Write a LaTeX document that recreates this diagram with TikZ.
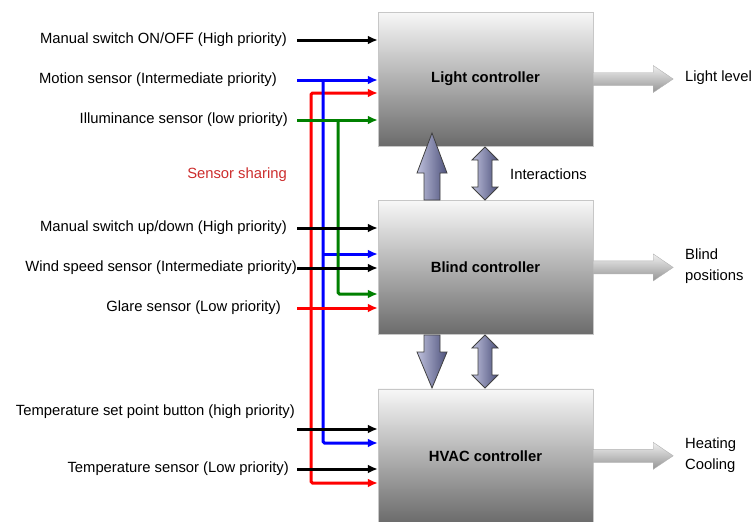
\documentclass[tikz,border=0pt]{standalone}
\usepackage{fontspec}
\setmainfont{Liberation Sans}
\usetikzlibrary{arrows.meta,positioning}
\definecolor{sharered}{RGB}{204,45,45}
\definecolor{interlight}{RGB}{190,192,220}
\definecolor{interdark}{RGB}{78,82,124}
\definecolor{darkgreen}{RGB}{0,128,0}

\begin{document}
\begin{tikzpicture}[x=1pt,y=-1pt,
    font=\fontsize{14.8}{21}\selectfont,
    ctrl/.style={draw=black!22,top color=black!3,bottom color=black!58,
      minimum width=215pt,minimum height=134pt,font=\fontsize{14.8}{17}\selectfont\bfseries},
    lbl/.style={anchor=east,inner sep=0pt},
    outlbl/.style={anchor=west,inner sep=0pt,align=left},
    tip/.tip={Latex[length=10pt,width=9pt]},
    feed/.style={line width=3pt,rounded corners=1.5pt,-tip},
    outarrow/.style={draw=black!30,top color=black!6,bottom color=black!42},
    interarrow/.style={draw=black!75,line width=0.8pt,left color=interlight,right color=interdark}]
  \useasboundingbox (0,0) rectangle (753,522);

  \node[ctrl] (light) at (485.5,79) {Light controller};
  \node[ctrl,below=54pt of light] (blind) {Blind controller};
  \node[ctrl,below=54pt of blind] (hvac) {HVAC controller};

  \node[lbl] (msw) at (287,40) {Manual switch ON/OFF (High priority)};
  \node[lbl] (mot) at (277,80) {Motion sensor (Intermediate priority)};
  \node[lbl] (ill) at (288,120) {Illuminance sensor (low priority)};
  \node[lbl,text=sharered] (share) at (287,175) {Sensor sharing};
  \node[lbl] (mud) at (287,228) {Manual switch up/down (High priority)};
  \node[lbl] (wind) at (297,268) {Wind speed sensor (Intermediate priority)};
  \node[lbl] (glare) at (281,308) {Glare sensor (Low priority)};
  \node[lbl] (tsp) at (295,412) {Temperature set point button (high priority)};
  \node[lbl] (temp) at (289,469) {Temperature sensor (Low priority)};

  \coordinate (start) at (297,0);
  \coordinate (tspin) at (297,429);
  \coordinate (rl) at (311,93);
  \coordinate (rh) at (311,483);
  \coordinate (bb) at (323,254);
  \coordinate (bh) at (323,443);
  \coordinate (gb) at (338,294);

  % shared sensors
  \draw[feed,red,tip-tip] (light.west |- rl) -- (rl) -- (rh) -- (hvac.west |- rh);
  \draw[feed,blue] (bh |- mot) |- (hvac.west |- bh);
  \draw[feed,blue] (bb) -- (blind.west |- bb);
  \draw[feed,darkgreen] (gb |- ill) |- (blind.west |- gb);

  \draw[feed] (start |- msw) -- (light.west |- msw);
  \draw[feed,blue] (start |- mot) -- (light.west |- mot);
  \draw[feed,darkgreen] (start |- ill) -- (light.west |- ill);
  \draw[feed] (start |- mud) -- (blind.west |- mud);
  \draw[feed] (start |- wind) -- (blind.west |- wind);
  \draw[feed,red] (start |- glare) -- (blind.west |- glare);
  \draw[feed] (tspin) -- (hvac.west |- tspin);
  \draw[feed] (start |- temp) -- (hvac.west |- temp);

  \foreach \b in {light,blind,hvac}
    \draw[outarrow] (\b.east) ++(0,-6.5) -- ++(60,0) -- ++(0,-7) -- ++(20,13.5)
      -- ++(-20,13.5) -- ++(0,-7) -- ++(-60,0) -- cycle;

  \draw[interarrow] (424,200) -- (424,173) -- (417,173) -- (432,133) -- (447,173)
    -- (440,173) -- (440,200) -- cycle;
  \draw[interarrow] (424,335) -- (424,352) -- (417,352) -- (432,388) -- (447,352)
    -- (440,352) -- (440,335) -- cycle;
  \foreach \dy in {0,188}
    \draw[interarrow,shift={(0,\dy)}] (485,147) -- (498,160) -- (492,160) -- (492,187)
      -- (498,187) -- (485,200) -- (472,187) -- (478,187) -- (478,160) -- (472,160) -- cycle;

  \node[outlbl] (inter) at (510,174) {Interactions};
  \node[outlbl] (lightout) at (685,78) {Light level};
  \node[outlbl] (blindout) at (685,266) {Blind\\positions};
  \node[outlbl] (hvacout) at (685,455) {Heating\\Cooling};
\end{tikzpicture}
\end{document}
